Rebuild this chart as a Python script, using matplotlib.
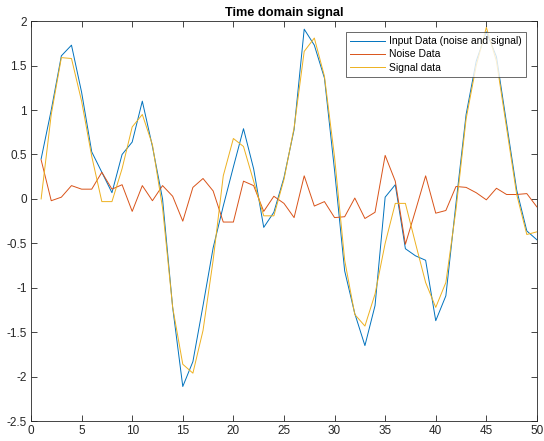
import matplotlib
matplotlib.use("Agg")
import matplotlib.pyplot as plt

# sample index
t = list(range(1, 51))

# input = noise + signal
input_data = [0.45, 1.00, 1.61, 1.73, 1.20, 0.53, 0.30, 0.07, 0.50, 0.64,
              1.10, 0.59, 0.00, -1.22, -2.11, -1.83, -1.20, -0.55, -0.08, 0.36,
              0.79, 0.34, -0.32, -0.15, 0.24, 0.78, 1.91, 1.73, 1.36, 0.32,
              -0.81, -1.29, -1.65, -1.20, 0.02, 0.16, -0.56, -0.64, -0.69, -1.37,
              -1.09, -0.05, 0.95, 1.55, 1.88, 1.60, 0.85, 0.10, -0.36, -0.46]

noise_data = [0.44, -0.02, 0.02, 0.15, 0.11, 0.11, 0.30, 0.11, 0.16, -0.14,
              0.15, -0.02, 0.15, 0.03, -0.25, 0.13, 0.23, 0.09, -0.26, -0.26,
              0.20, 0.15, -0.14, 0.03, -0.05, -0.21, 0.26, -0.08, -0.03, -0.21,
              -0.20, 0.01, -0.22, -0.15, 0.49, 0.20, -0.51, -0.13, 0.26, -0.16,
              -0.13, 0.14, 0.13, 0.07, -0.01, 0.12, 0.05, 0.05, 0.06, -0.09]

signal_data = [0.00, 0.95, 1.59, 1.58, 1.10, 0.48, -0.03, -0.03, 0.34, 0.81,
               0.95, 0.61, -0.10, -1.22, -1.86, -1.96, -1.48, -0.69, 0.26, 0.68,
               0.59, 0.20, -0.19, -0.19, 0.22, 0.80, 1.66, 1.81, 1.38, 0.47,
               -0.69, -1.30, -1.43, -1.07, -0.50, -0.05, -0.05, -0.50, -0.94, -1.22,
               -0.94, -0.12, 0.90, 1.50, 1.93, 1.55, 0.80, 0.05, -0.40, -0.37]

plt.rcParams['font.family'] = ['Liberation Sans', 'DejaVu Sans']

fig = plt.figure(figsize=(5.44, 4.41), dpi=100)
ax = fig.add_axes([0.057, 0.045, 0.930, 0.907])

ax.plot(t, input_data, color='#0072BD', lw=0.7, label='Input Data (noise and signal)')
ax.plot(t, noise_data, color='#D95319', lw=0.7, label='Noise Data')
ax.plot(t, signal_data, color='#EDB120', lw=0.7, label='Signal data')

ax.set_xlim(0, 50)
ax.set_ylim(-2.5, 2)
ax.set_xticks(range(0, 51, 5))
ax.set_yticks([-2.5, -2, -1.5, -1, -0.5, 0, 0.5, 1, 1.5, 2])
ax.set_yticklabels(['-2.5', '-2', '-1.5', '-1', '-0.5', '0', '0.5', '1', '1.5', '2'])
ax.tick_params(direction='in', top=True, right=True, labelsize=8.5,
               colors='#262626', length=4, width=0.6, pad=3)
for s in ax.spines.values():
    s.set_color('#262626')
    s.set_linewidth(0.6)

ax.set_title('Time domain signal', fontsize=9.2, fontweight='bold', pad=4)

leg = ax.legend(loc='upper right', bbox_to_anchor=(0.978, 0.9725),
                borderaxespad=0, fontsize=7.5, frameon=True, fancybox=False,
                edgecolor='#262626', handlelength=3.3, borderpad=0.4,
                labelspacing=0.3, handletextpad=0.4)
leg.get_frame().set_linewidth(0.6)

fig.savefig('out.png', dpi=100)
